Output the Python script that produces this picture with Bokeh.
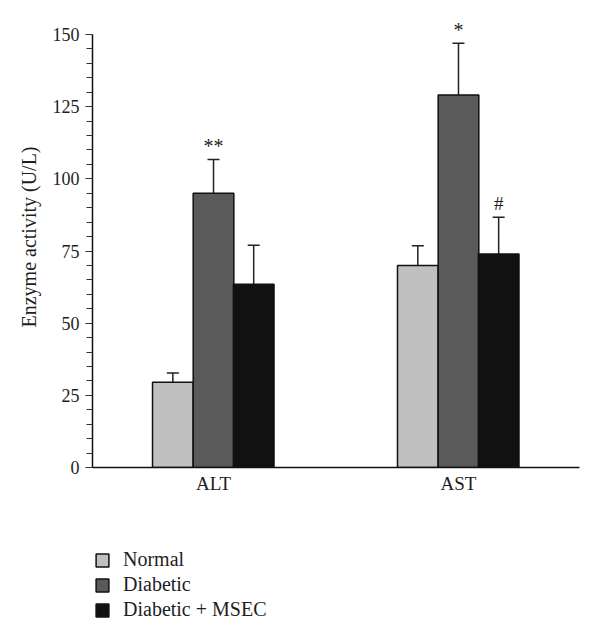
from bokeh.plotting import figure
from bokeh.layouts import column
from bokeh.models import (ColumnDataSource, Whisker, Legend, LegendItem,
                          SingleIntervalTicker, FixedTicker, Range1d, TeeHead)
from bokeh.transform import dodge
from bokeh.core.properties import value
from bokeh.embed import file_html
from bokeh.resources import INLINE

# ---- data ----
categories = ["ALT", "AST"]
cat_pos = [1, 2]
groups = ["Normal", "Diabetic", "Diabetic + MSEC"]
normal = [29.5, 70.0]
diabetic = [95.0, 129.0]
msec = [63.5, 74.0]
normal_err = [3.2, 6.8]
diabetic_err = [11.7, 18.0]
msec_err = [13.5, 12.7]
normal_marks = ["", ""]
diabetic_marks = ["**", "*"]
msec_marks = ["", "#"]
y_ticks_max = 150

# ---- style ----
FONT = "Liberation Serif"
TXT = "#1e1e1e"
colors = ["#c0c0c0", "#5a5a5a", "#111111"]
offsets = [-0.166, 0.0, 0.164]
mark_offsets = [-13, -13, -14]
mark_sizes = ["20px", "20px", "19px"]
BAR_W = 0.166

p = figure(width=584, height=530, output_backend="svg", toolbar_location=None,
           x_range=Range1d(0.506, 2.494), y_range=Range1d(0, 159.7),
           min_border_left=92, min_border_right=5, min_border_top=6,
           min_border_bottom=63)
p.outline_line_color = None
p.xgrid.visible = False
p.ygrid.visible = False
p.background_fill_color = "white"
p.border_fill_color = "white"

# y axis
ya = p.yaxis[0]
ya.bounds = (0, y_ticks_max)
ya.ticker = SingleIntervalTicker(interval=25, num_minor_ticks=5)
ya.axis_label = "Enzyme activity (U/L)"
ya.axis_label_text_font = FONT
ya.axis_label_text_font_style = "normal"
ya.axis_label_text_font_size = "20px"
ya.axis_label_text_color = TXT
ya.axis_label_standoff = 10
ya.major_label_text_font = FONT
ya.major_label_text_font_size = "18px"
ya.major_label_text_color = TXT
ya.major_label_standoff = 6
ya.major_tick_out = 7
ya.major_tick_in = 0
ya.minor_tick_out = 6
ya.minor_tick_in = 0
ya.axis_line_color = "#111111"
ya.axis_line_width = 1.5
ya.major_tick_line_color = "#333333"
ya.minor_tick_line_color = "#333333"
ya.major_tick_line_width = 1.2
ya.minor_tick_line_width = 1.2

# x axis
xa = p.xaxis[0]
xa.ticker = FixedTicker(ticks=cat_pos)
xa.major_label_overrides = {c: l for c, l in zip(cat_pos, categories)}
xa.major_label_text_font = FONT
xa.major_label_text_font_size = "19px"
xa.major_label_text_color = TXT
xa.major_label_standoff = 5
xa.major_tick_out = 0
xa.major_tick_in = 0
xa.minor_tick_line_color = None
xa.axis_line_color = "#111111"
xa.axis_line_width = 1.5

series = [(normal, normal_err, normal_marks),
          (diabetic, diabetic_err, diabetic_marks),
          (msec, msec_err, msec_marks)]

# legend panel (separate figure below the chart); proxy renderers are muted
# with zero alpha so only the legend swatches show
lg = figure(width=584, height=96, output_backend="svg", toolbar_location=None,
            x_range=Range1d(5, 6), y_range=Range1d(-2, -1),
            x_axis_type=None, y_axis_type=None, min_border=0)
lg.outline_line_color = None
lg.xgrid.visible = False
lg.ygrid.visible = False
lg.background_fill_color = "white"
lg.border_fill_color = "white"

items = []
for (vals, errs, marks), g, col, off, moff, msz in zip(
        series, groups, colors, offsets, mark_offsets, mark_sizes):
    src = ColumnDataSource(dict(
        x=cat_pos, top=vals,
        upper=[v + e for v, e in zip(vals, errs)],
        mark=marks))
    xs = dodge("x", off, range=p.x_range)
    p.vbar(x=xs, top="top", width=BAR_W, bottom=0, source=src,
           fill_color=col, line_color="#111111", line_width=1.5)
    w = Whisker(source=src, base=xs, lower="top", upper="upper",
                dimension="height", lower_head=None,
                upper_head=TeeHead(size=12, line_color="#222222", line_width=1.5),
                line_color="#222222", line_width=1.5)
    p.add_layout(w)
    p.text(x=xs, y="upper", text="mark", source=src,
           text_font=value(FONT), text_font_size=msz, text_color=TXT,
           text_align="center", text_baseline="alphabetic", y_offset=moff)
    proxy = lg.vbar(x="x", top="top", width=BAR_W, bottom=0, source=src,
                    fill_color=col, line_color="#111111", line_width=1.5,
                    muted_alpha=0)
    proxy.muted = True
    items.append(LegendItem(label=g, renderers=[proxy]))

legend = Legend(items=items, location=(2, 5), click_policy="none",
                label_text_font=FONT, label_text_font_size="20px",
                label_text_color=TXT, glyph_width=16, glyph_height=16,
                label_height=16, spacing=2, padding=0, margin=0,
                label_standoff=13, border_line_color=None,
                background_fill_alpha=0, inactive_fill_alpha=0)
lg.add_layout(legend)

layout = column(p, lg, spacing=0)
open("out.html", "w").write(file_html(layout, INLINE))
